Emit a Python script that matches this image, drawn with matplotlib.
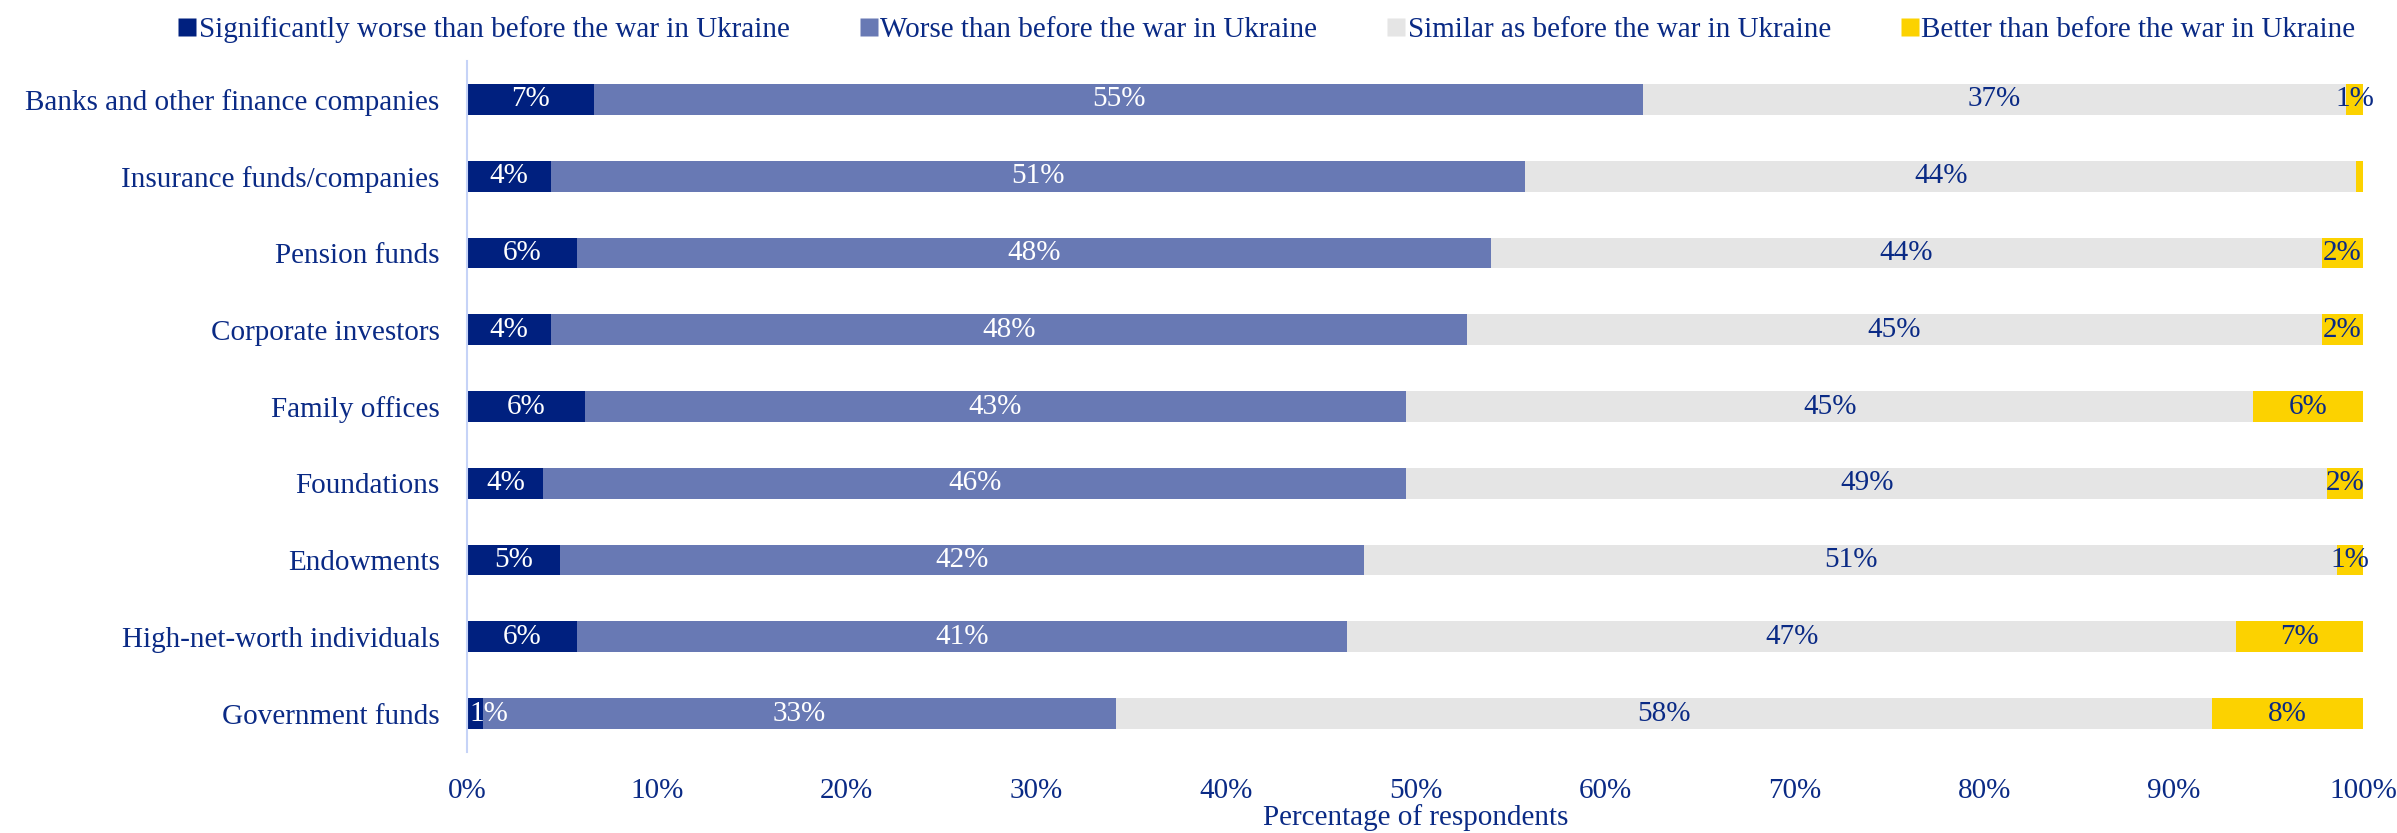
import matplotlib
matplotlib.use("Agg")
import matplotlib.pyplot as plt
from matplotlib.lines import Line2D
import numpy as np

categories = [
    "Banks and other finance companies",
    "Insurance funds/companies",
    "Pension funds",
    "Corporate investors",
    "Family offices",
    "Foundations",
    "Endowments",
    "High-net-worth individuals",
    "Government funds",
]
sig_worse = [6.7, 4.4, 5.8, 4.4, 6.2, 4.0, 4.9, 5.8, 0.8]
worse = [55.3, 51.4, 48.2, 48.3, 43.3, 45.5, 42.4, 40.6, 33.4]
similar = [37.1, 43.8, 43.8, 45.1, 44.7, 48.6, 51.3, 46.9, 57.8]
better = [0.9, 0.4, 2.2, 2.2, 5.8, 1.9, 1.4, 6.7, 8.0]
series_names = [
    "Significantly worse than before the war in Ukraine",
    "Worse than before the war in Ukraine",
    "Similar as before the war in Ukraine",
    "Better than before the war in Ukraine",
]

colors = ["#00207f", "#6879b4", "#e5e5e5", "#fcd200"]
text_colors = ["white", "white", "#0a2a85", "#0a2a85"]
navy = "#0a2a85"
fs = 21

plt.rcParams["font.family"] = ["Liberation Serif", "DejaVu Serif"]

fig = plt.figure(figsize=(23.97, 8.33), dpi=100)
ax = fig.add_axes([0.195, 0.0972, 0.791, 0.8296])

y = np.arange(len(categories))
left = np.zeros(len(categories))
data = [sig_worse, worse, similar, better]
for vals, col, tcol in zip(data, colors, text_colors):
    vals = np.array(vals)
    ax.barh(y, vals, left=left, height=0.4, color=col, edgecolor="none")
    for yi, l, v in zip(y, left, vals):
        if round(v) >= 1:
            xc, ha = l + v / 2, "center"
            # keep tiny labels inside the plot area on the left
            if xc < 1.0:
                xc, ha = 0.1, "left"
            ax.text(xc, yi, "%d%%" % round(v), ha=ha, va="center",
                    color=tcol, fontsize=fs)
    left = left + vals

ax.set_xlim(0, 100)
ax.set_ylim(len(categories) - 0.5, -0.5)
ax.set_yticks(y)
ax.set_yticklabels(categories, fontsize=fs, color=navy)
ax.set_xticks(np.arange(0, 101, 10))
ax.set_xticklabels(["%d%%" % v for v in range(0, 101, 10)], fontsize=fs, color=navy)
ax.tick_params(axis="both", length=0)
ax.tick_params(axis="x", pad=19)
ax.tick_params(axis="y", pad=20)
ax.set_xlabel("Percentage of respondents", fontsize=fs, color=navy, labelpad=0)
for s in ["top", "right", "bottom"]:
    ax.spines[s].set_visible(False)
ax.spines["left"].set_color("#c6d3f7")
ax.spines["left"].set_linewidth(1.5)

handles = [Line2D([], [], marker="s", linestyle="none", markersize=13,
                  markerfacecolor=c, markeredgecolor="none") for c in colors]
leg = fig.legend(handles, series_names, loc="upper center", ncol=4,
                 bbox_to_anchor=(0.528, 1.012), frameon=False, fontsize=fs,
                 handletextpad=0.0, columnspacing=2.3, handlelength=0.8)
for t in leg.get_texts():
    t.set_color(navy)

fig.savefig("out.png", dpi=100)
